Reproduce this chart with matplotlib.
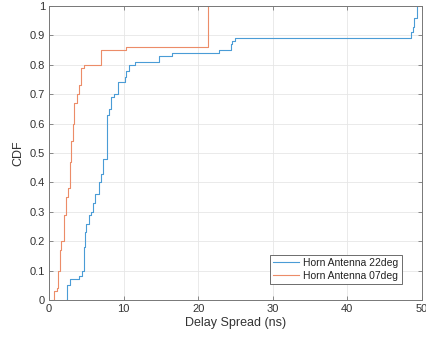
import matplotlib
matplotlib.use("Agg")
import matplotlib.pyplot as plt

plt.rcParams['font.family'] = ['Liberation Sans', 'DejaVu Sans']

# Horn Antenna 22deg (delay spread ns, CDF level after step)
x22 = [2.24, 2.41, 2.86, 4.02, 4.38, 4.64, 4.87, 5.0, 5.36, 5.67, 5.9, 6.2, 6.65, 6.92,
       7.23, 7.77, 8.03, 8.35, 8.66, 9.24, 10.13, 10.36, 10.7, 11.56, 14.73, 16.43,
       22.76, 24.4, 24.6, 25.0, 48.6, 48.8, 49.0, 49.3]
y22 = [0.0, 0.05, 0.07, 0.08, 0.10, 0.18, 0.23, 0.26, 0.29, 0.30, 0.33, 0.36, 0.40, 0.43,
       0.48, 0.63, 0.65, 0.69, 0.70, 0.74, 0.76, 0.78, 0.80, 0.81, 0.83, 0.84,
       0.85, 0.87, 0.88, 0.89, 0.91, 0.93, 0.96, 1.0]

# Horn Antenna 07deg
x07 = [0.41, 0.63, 1.07, 1.21, 1.52, 1.66, 1.97, 2.24, 2.55, 2.77, 3.0, 3.2, 3.4, 3.75,
       4.0, 4.24, 4.64, 6.92, 10.27, 21.3]
y07 = [0.0, 0.03, 0.04, 0.10, 0.17, 0.20, 0.29, 0.35, 0.38, 0.47, 0.54, 0.60, 0.67, 0.70,
       0.73, 0.79, 0.80, 0.85, 0.86, 1.0]

labels = ['Horn Antenna 22deg', 'Horn Antenna 07deg']
xticks = [0, 10, 20, 30, 40, 50]
yticks = [0, 0.1, 0.2, 0.3, 0.4, 0.5, 0.6, 0.7, 0.8, 0.9, 1]
yticklabels = ['0', '0.1', '0.2', '0.3', '0.4', '0.5', '0.6', '0.7', '0.8', '0.9', '1']

fig = plt.figure(figsize=(4.27, 3.45), dpi=100)
ax = fig.add_axes([0.1148, 0.1304, 0.8732, 0.8522])

ax.plot(x22, y22, drawstyle='steps-post', color='#4A9CD6', lw=0.8, label=labels[0])
ax.plot(x07, y07, drawstyle='steps-post', color='#EC8C68', lw=0.8, label=labels[1])

ax.set_xlim(0, 50)
ax.set_ylim(0, 1)
ax.set_xticks(xticks)
ax.set_yticks(yticks)
ax.set_yticklabels(yticklabels)
ax.grid(True, color='#e6e6e6', lw=0.6)
ax.set_axisbelow(True)
ax.tick_params(direction='in', top=True, right=True, length=3, width=0.6,
               color='#777777', labelcolor='#333333', labelsize=8, pad=3)
for s in ax.spines.values():
    s.set_color('#777777')
    s.set_linewidth(0.7)

ax.set_xlabel('Delay Spread (ns)', fontsize=9, color='#333333', labelpad=2)
ax.set_ylabel('CDF', fontsize=9, color='#333333', labelpad=4)

leg = ax.legend(loc='lower right', fontsize=7.5, frameon=True, fancybox=False,
                edgecolor='#555555', framealpha=1, borderpad=0.3, handlelength=2.5,
                handletextpad=0.4, labelspacing=0.3, borderaxespad=0,
                bbox_to_anchor=(0.946, 0.054))
leg.get_frame().set_linewidth(0.6)
for t in leg.get_texts():
    t.set_color('#222222')

fig.savefig('out.png', dpi=100)
